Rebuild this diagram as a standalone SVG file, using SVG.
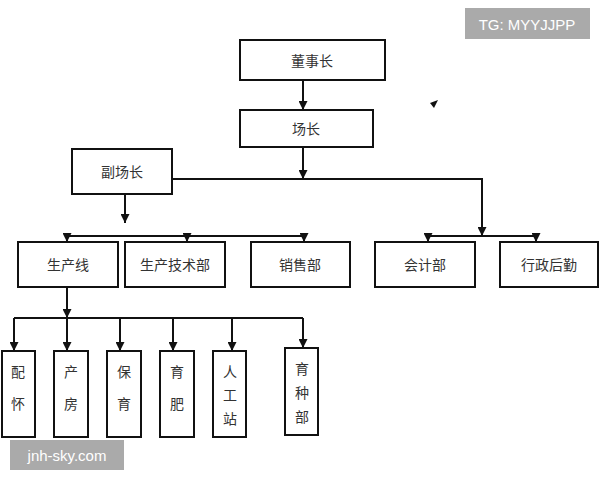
<svg xmlns="http://www.w3.org/2000/svg" width="600" height="480" viewBox="0 0 600 480">
<defs><marker id="a" markerWidth="8" markerHeight="8" refX="4" refY="7" orient="auto" markerUnits="userSpaceOnUse"><path d="M0,0 L8,0 L4,8 Z" fill="#111" transform="rotate(-90 4 4)"/></marker>
<marker id="b" viewBox="0 0 10 10" refX="10" refY="5" markerWidth="9" markerHeight="9" orient="auto" markerUnits="userSpaceOnUse"><path d="M0,0 L10,5 L0,10 Z" fill="#111"/></marker></defs>
<style>
rect.n{fill:#fff;stroke:#111;stroke-width:2}
text{font-family:"Noto Sans CJK SC","Liberation Serif",serif;font-size:14px;fill:#333;text-anchor:middle;dominant-baseline:central}
.c line,.c polyline{stroke:#111;stroke-width:2;fill:none}
.w{fill:#aaa}
.wt{font-family:"Liberation Sans",sans-serif;fill:#fff;font-size:15px}
</style>
<rect width="600" height="480" fill="#fff"/>
<g class="c">
<line x1="303" y1="80" x2="303" y2="110" marker-end="url(#b)"/>
<line x1="303" y1="147" x2="303" y2="179" marker-end="url(#b)"/>
<polyline points="172,179 482,179 482,236" marker-end="url(#b)"/>
<line x1="125" y1="194" x2="125" y2="223" marker-end="url(#b)"/>
<line x1="67" y1="236" x2="304" y2="236"/>
<line x1="67" y1="236" x2="67" y2="242" marker-end="url(#b)"/>
<line x1="187" y1="236" x2="187" y2="242" marker-end="url(#b)"/>
<line x1="304" y1="236" x2="304" y2="242" marker-end="url(#b)"/>
<line x1="428" y1="236" x2="536" y2="236"/>
<line x1="428" y1="236" x2="428" y2="242" marker-end="url(#b)"/>
<line x1="536" y1="236" x2="536" y2="242" marker-end="url(#b)"/>
<line x1="67" y1="287" x2="67" y2="318" marker-end="url(#b)"/>
<line x1="14" y1="318" x2="303" y2="318"/>
<line x1="14" y1="318" x2="14" y2="351" marker-end="url(#b)"/>
<line x1="67" y1="318" x2="67" y2="351" marker-end="url(#b)"/>
<line x1="120" y1="318" x2="120" y2="351" marker-end="url(#b)"/>
<line x1="173" y1="318" x2="173" y2="351" marker-end="url(#b)"/>
<line x1="232" y1="318" x2="232" y2="351" marker-end="url(#b)"/>
<line x1="303" y1="318" x2="303" y2="348" marker-end="url(#b)"/>
</g>
<g id="n1"><rect class="n" x="240" y="40" width="145" height="40"/><text x="312" y="60">董事长</text></g>
<g id="n2"><rect class="n" x="240" y="110" width="133" height="37"/><text x="306" y="128">场长</text></g>
<g id="n3"><rect class="n" x="72" y="149" width="100" height="45"/><text x="122" y="171">副场长</text></g>
<g id="n4"><rect class="n" x="18" y="242" width="100" height="45"/><text x="68" y="264">生产线</text></g>
<g id="n5"><rect class="n" x="125" y="242" width="100" height="45"/><text x="175" y="264">生产技术部</text></g>
<g id="n6"><rect class="n" x="251" y="242" width="99" height="45"/><text x="300" y="264">销售部</text></g>
<g id="n7"><rect class="n" x="375" y="242" width="100" height="45"/><text x="425" y="264">会计部</text></g>
<g id="n8"><rect class="n" x="500" y="242" width="98" height="45"/><text x="549" y="264">行政后勤</text></g>
<g id="n9"><rect class="n" x="2" y="351" width="33" height="86"/><text x="18" y="371">配</text><text x="18" y="403">怀</text></g>
<g id="n10"><rect class="n" x="54" y="351" width="34" height="86"/><text x="71" y="371">产</text><text x="71" y="403">房</text></g>
<g id="n11"><rect class="n" x="107" y="351" width="34" height="86"/><text x="124" y="371">保</text><text x="124" y="403">育</text></g>
<g id="n12"><rect class="n" x="160" y="351" width="34" height="86"/><text x="177" y="371">育</text><text x="177" y="403">肥</text></g>
<g id="n13"><rect class="n" x="213" y="351" width="33" height="86"/><text x="230" y="371">人</text><text x="230" y="394">工</text><text x="230" y="418">站</text></g>
<g id="n14"><rect class="n" x="285" y="348" width="33" height="87"/><text x="302" y="368">育</text><text x="302" y="392">种</text><text x="302" y="416">部</text></g>
<polygon points="430,103 438,100 434,108" fill="#111"/>
<rect class="w" x="465" y="8" width="125" height="31"/><text class="wt" x="527" y="24">TG: MYYJJPP</text>
<rect class="w" x="10" y="440" width="114" height="30"/><text class="wt" x="67" y="455">jnh-sky.com</text>
</svg>
